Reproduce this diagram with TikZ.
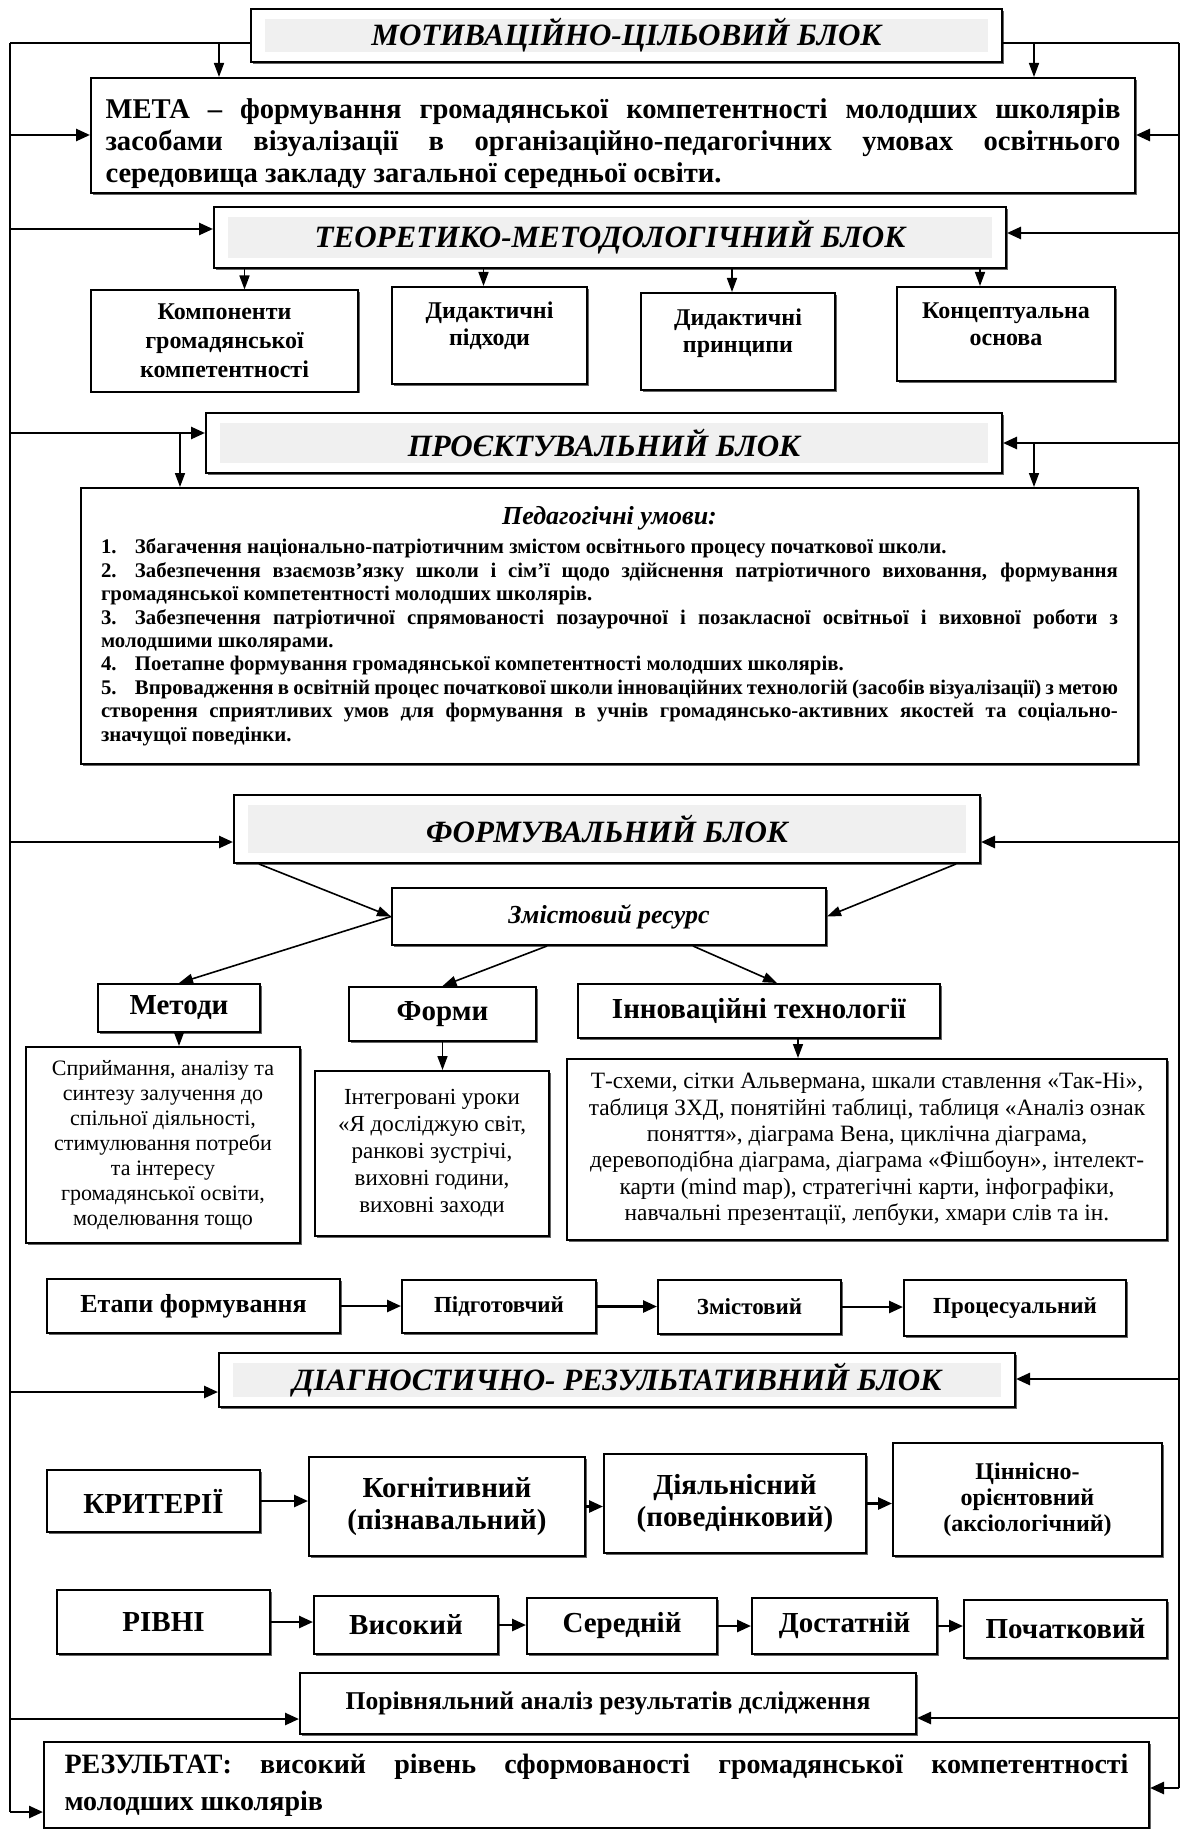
\documentclass[tikz,border=0pt]{standalone}
\usepackage{fontspec}
\setmainfont{Liberation Serif}
\usetikzlibrary{arrows.meta, positioning, shadows}

\begin{document}
\begin{tikzpicture}[x=0.5pt, y=-0.5pt,
  bx/.style={draw, line width=1pt, fill=white, inner sep=2pt, align=center,
    font=\fontsize{12}{14.5}\selectfont\bfseries,
    drop shadow={shadow xshift=0.8pt, shadow yshift=-0.8pt, fill=black, opacity=0.6}},
  hd/.style={bx, font=\fontsize{15.5}{18}\selectfont\bfseries\itshape,
    path picture={\fill[black!6] ([shift={(7pt,-5pt)}]path picture bounding box.north west)
      rectangle ([shift={(-7pt,5pt)}]path picture bounding box.south east);}},
  tx/.style={bx, font=\fontsize{11}{12.5}\selectfont},
  big/.style={bx, font=\fontsize{14.5}{16}\selectfont\bfseries},
  up/.style={font=\fontsize{12}{13.5}\selectfont\bfseries, text depth=#1},
  bus/.style={line width=1.2pt},
  arr/.style={line width=1.3pt, -{Triangle[length=7pt, width=6pt]}},
  ln/.style={line width=0.8pt, -{Triangle[length=7pt, width=5pt]}}]
\useasboundingbox (0,0) rectangle (1183,1829);

% motivational block
\node[hd, minimum width=375.5pt, minimum height=26.5pt] (motiv) at (626.5,35.5) {МОТИВАЦІЙНО-ЦІЛЬОВИЙ БЛОК};
\node[bx, minimum width=522pt, text height=18.5pt, text depth=35pt, text width=507.5pt, align=justify,
  font=\fontsize{14.3}{16}\selectfont\bfseries] (meta) at (613,135.5)
  {МЕТА – формування громадянської компетентності молодших школярів\linebreak
   засобами візуалізації в організаційно-педагогічних умовах освітнього\linebreak
   середовища закладу загальної середньої освіти.};

% theoretical block
\node[hd, minimum width=396pt, minimum height=30.5pt] (teor) at (610,237.5) {ТЕОРЕТИКО-МЕТОДОЛОГІЧНИЙ БЛОК};
\node[bx, minimum width=133.5pt, minimum height=50.5pt] (k1) at (224.5,341) {Компоненти\\громадянської\\компетентності};
\node[bx, up=12pt, minimum width=97.5pt, minimum height=48.5pt] (k2) at (489.5,335.5) {Дидактичні\\підходи};
\node[bx, up=11pt, minimum width=97pt, minimum height=48.5pt] (k3) at (738,341.5) {Дидактичні\\принципи};
\node[bx, up=9.5pt, minimum width=109pt, minimum height=47pt] (k4) at (1006,334) {Концептуальна\\основа};

% design block
\node[hd, minimum width=398pt, minimum height=30pt] (proj) at (604,443) {ПРОЄКТУВАЛЬНИЙ БЛОК};
\node[bx, minimum width=528.5pt, minimum height=138pt, text width=508.5pt, align=justify,
  font=\fontsize{10.4}{11.7}\selectfont\bfseries] (ped) at (609.5,626)
  {{\centering\fontsize{13}{15}\selectfont\itshape Педагогічні умови:\par}\vspace{3pt}
   \makebox[17pt][l]{1.}Збагачення національно-патріотичним змістом освітнього процесу початкової школи.\par
   \makebox[17pt][l]{2.}Забезпечення взаємозв’язку школи і сім’ї щодо здійснення патріотичного виховання, формування\linebreak
   громадянської компетентності молодших школярів.\par
   \makebox[17pt][l]{3.}Забезпечення патріотичної спрямованості позаурочної і позакласної освітньої і виховної роботи з\linebreak
   молодшими школярами.\par
   \makebox[17pt][l]{4.}Поетапне формування громадянської компетентності молодших школярів.\par
   \makebox[17pt][l]{5.}Впровадження в освітній процес початкової школи інноваційних технологій (засобів візуалізації) з метою\linebreak
   створення сприятливих умов для формування в учнів громадянсько-активних якостей та соціально-\linebreak
   значущої поведінки.};

% forming block
\node[hd, minimum width=373pt, minimum height=34pt] (form) at (607,829) {ФОРМУВАЛЬНИЙ БЛОК};
\node[bx, minimum width=217pt, minimum height=28.5pt, font=\fontsize{13}{15}\selectfont\bfseries\itshape] (zmist) at (609,916.5) {Змістовий ресурс};
\node[big, minimum width=81pt, minimum height=24pt] (metody) at (179,1008) {Методи};
\node[big, minimum width=93.5pt, minimum height=27pt] (formy) at (442.5,1014) {Форми};
\node[big, minimum width=181pt, minimum height=27pt] (innov) at (759,1011) {Інноваційні технології};
\node[tx, minimum width=137pt, minimum height=98pt] (metT) at (163,1145)
  {Сприймання, аналізу та\\синтезу залучення до\\спільної діяльності,\\стимулювання потреби\\та інтересу\\громадянської освіти,\\моделювання тощо};
\node[tx, minimum width=117pt, minimum height=82.5pt, font=\fontsize{11.5}{13.5}\selectfont] (formT) at (432,1153.5)
  {Інтегровані уроки\\«Я досліджую світ,\\ранкові зустрічі,\\виховні години,\\виховні заходи};
\node[tx, minimum width=300pt, minimum height=90.5pt, font=\fontsize{11.7}{13.2}\selectfont] (innT) at (867,1149.5)
  {Т-схеми, сітки Альвермана, шкали ставлення «Так-Ні»,\\таблиця ЗХД, понятійні таблиці, таблиця «Аналіз ознак\\поняття», діаграма Вена, циклічна діаграма,\\деревоподібна діаграма, діаграма «Фішбоун», інтелект-\\карти (mind map), стратегічні карти, інфографіки,\\навчальні презентації, лепбуки, хмари слів та ін.};

% stages
\node[bx, minimum width=146.5pt, minimum height=27pt, font=\fontsize{13}{15}\selectfont\bfseries] (etapy) at (193.5,1306) {Етапи формування};
\node[bx, minimum width=97pt, minimum height=26.5pt, font=\fontsize{11.5}{14}\selectfont\bfseries] (pidg) at (499,1306.5) {Підготовчий};
\node[bx, minimum width=91.5pt, minimum height=27pt, font=\fontsize{11.5}{14}\selectfont\bfseries] (zmist2) at (749.5,1307) {Змістовий};
\node[bx, minimum width=111pt, minimum height=28pt, font=\fontsize{11.5}{14}\selectfont\bfseries] (proc) at (1015,1308) {Процесуальний};

% diagnostic block
\node[hd, minimum width=398pt, minimum height=27pt] (diagn) at (617,1380) {ДІАГНОСТИЧНО- РЕЗУЛЬТАТИВНИЙ БЛОК};
\node[big, minimum width=106.5pt, minimum height=31pt] (krit) at (153.5,1501) {КРИТЕРІЇ};
\node[big, minimum width=138pt, minimum height=49.5pt] (kogn) at (447,1506.5) {Когнітивний\\(пізнавальний)};
\node[big, minimum width=131pt, minimum height=49.5pt] (diyal) at (735,1503.5) {Діяльнісний\\(поведінковий)};
\node[bx, minimum width=134.5pt, minimum height=56.5pt, font=\fontsize{12}{13}\selectfont\bfseries] (tsin) at (1027.5,1499.5) {Ціннісно-\\орієнтовний\\(аксіологічний)};
\node[big, minimum width=106.5pt, minimum height=32pt] (rivni) at (163.5,1622) {РІВНІ};
\node[big, minimum width=92pt, minimum height=29pt] (vys) at (406,1625) {Високий};
\node[big, minimum width=95pt, minimum height=28pt] (ser) at (622,1626) {Середній};
\node[big, minimum width=92.5pt, minimum height=28pt] (dost) at (844.5,1626) {Достатній};
\node[big, minimum width=101.5pt, minimum height=29pt] (poch) at (1065.5,1629) {Початковий};
\node[bx, minimum width=308pt, minimum height=30.5pt, font=\fontsize{12.8}{14}\selectfont\bfseries] (porivn) at (608,1703.5) {Порівняльний аналіз результатів дслідження};
\node[bx, minimum width=552.5pt, minimum height=43pt, text width=532pt, align=justify,
  font=\fontsize{14}{18.5}\selectfont\bfseries] (rezult) at (596.5,1785)
  {РЕЗУЛЬТАТ: високий рівень сформованості громадянської компетентності\linebreak
   молодших школярів};

% side lines
\coordinate (lt) at (10,43); \coordinate (rt) at (1179,43);
\coordinate (lb) at (10,1812); \coordinate (rb) at (1179,1788);
\draw[bus] (lt) -- (lt -| motiv.west);
\draw[bus] (rt) -- (rt -| motiv.east);
\draw[bus] (lt) -- (lb);
\draw[bus] (rt) -- (rb);
\foreach \y/\n in {135/meta, 229/teor, 433/proj, 842/form, 1392/diagn, 1719/porivn, 1812/rezult}{
  \coordinate (l\n) at (10,\y);
  \draw[arr] (l\n) -- (l\n -| \n.west);}
\foreach \y/\n in {135/meta, 233/teor, 443/proj, 842/form, 1379/diagn, 1718/porivn, 1788/rezult}{
  \coordinate (r\n) at (1179,\y);
  \draw[arr] (r\n) -- (r\n -| \n.east);}
\coordinate (lm) at (219,43); \coordinate (rm) at (1034,43);
\draw[ln] (lm) -- (lm |- meta.north);
\draw[ln] (rm) -- (rm |- meta.north);
\coordinate (lp) at (180,433); \coordinate (rp) at (1034,443);
\draw[ln] (lp) -- (lp |- ped.north);
\draw[ln] (rp) -- (rp |- ped.north);

% teor -> four boxes
\foreach \n/\s in {k1/10pt, k2/-3pt, k3/-3pt, k4/-13pt}{
  \coordinate (t\n) at ([xshift=\s]\n.north);
  \draw[ln] (t\n |- teor.south) -- (t\n);}

% forming block links
\draw[ln] ([xshift=13pt]form.south west) -- (zmist.west);
\draw[ln] ([xshift=-12.5pt]form.south east) -- (zmist.east);
\draw[ln] (zmist.west) -- (metody.north);
\draw[ln] ([xshift=-31pt]zmist.south) -- (formy.north);
\draw[ln] ([xshift=42pt]zmist.south) -- ([xshift=9pt]innov.north);
\draw[ln] (metody.south) -- (metody.south |- metT.north);
\draw[ln] (formy.south) -- (formy.south |- formT.north);
\coordinate (iv) at ([xshift=19.5pt]innov.south);
\draw[ln] (iv) -- (iv |- innT.north);

% rows
\foreach \a/\b in {etapy/pidg, pidg/zmist2, zmist2/proc, krit/kogn, kogn/diyal, diyal/tsin,
  rivni/vys, vys/ser, ser/dost, dost/poch}
  \draw[arr] (\a.east) -- (\a.east -| \b.west);
\end{tikzpicture}
\end{document}
